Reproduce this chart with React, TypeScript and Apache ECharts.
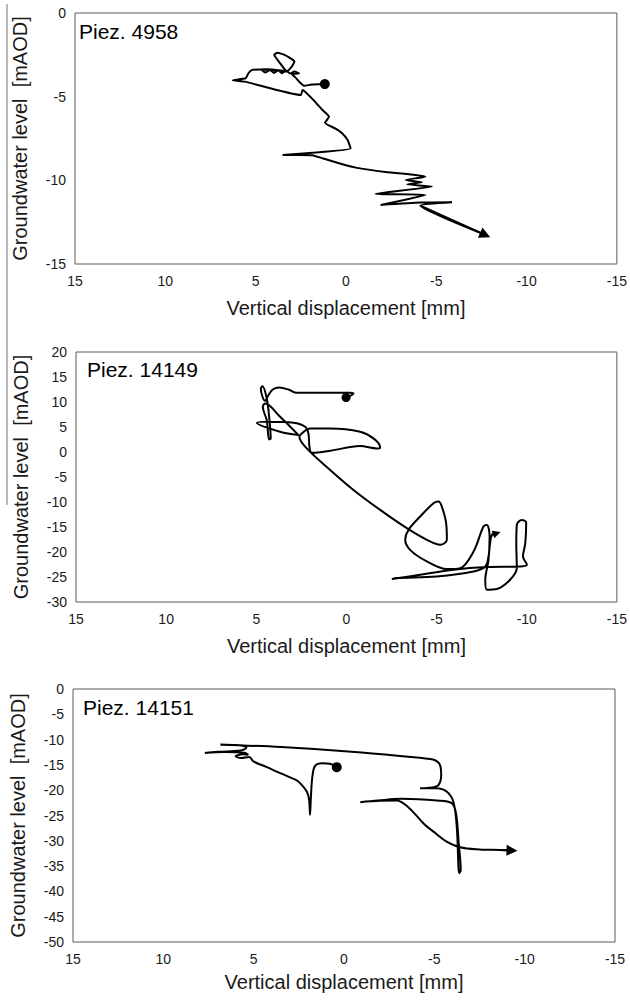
import React, { useEffect, useRef } from "react";
import * as echarts from "echarts";

const FONT = "'Liberation Sans', Arial, Helvetica, sans-serif";

// Piezometer names, one per panel
const piezNames = ["Piez. 4958", "Piez. 14149", "Piez. 14151"];

// Axis ranges (mm for displacement, mAOD for groundwater level)
const displacementRange = [-15, 15];
const displacementStep = 5;
const levelRanges: [number, number][] = [
  [-15, 0],
  [-30, 20],
  [-50, 0],
];
const levelStep = 5;

// Trajectories: [vertical displacement (mm), groundwater level (mAOD)], in time order
const piez4958: [number, number][] = [
  [1.17, -4.25], [1.9, -4.28], [2.3, -4.35], [2.55, -4.15], [2.8, -3.85], [3.0, -3.65],
  [2.6, -3.62], [2.85, -3.5], [3.1, -3.62], [3.3, -3.45], [3.55, -3.6], [3.75, -3.42],
  [4.0, -3.58], [4.2, -3.4], [4.45, -3.55], [4.7, -3.38], [4.35, -3.36], [3.6, -3.44],
  [3.3, -3.5], [3.65, -3.0], [3.97, -2.5], [3.8, -2.38], [3.4, -2.5], [2.85, -2.9],
  [3.0, -3.2], [3.3, -3.5], [4.0, -3.42], [4.8, -3.38], [5.2, -3.4], [5.4, -3.6],
  [5.55, -3.9], [6.27, -4.02], [5.6, -4.1], [2.5, -4.9], [2.4, -4.6], [1.8, -5.2],
  [1.3, -5.8], [0.94, -6.2], [1.16, -6.56], [0.6, -6.9], [0.2, -7.2], [-0.1, -7.6],
  [-0.26, -8.1], [3.51, -8.49], [2.6, -8.48], [1.86, -8.5], [1.3, -8.68], [0.38, -8.98],
  [-0.54, -9.24], [-2.2, -9.5], [-3.85, -9.68], [-4.4, -9.78], [-3.3, -9.98], [-4.21, -10.12],
  [-3.38, -10.24], [-4.76, -10.37], [-1.64, -10.81], [-4.4, -10.87], [-1.92, -11.47],
  [-4.12, -11.33], [-5.87, -11.31], [-4.12, -11.51], [-7.71, -13.26],
];

const piez14149: [number, number][] = [
  [0.02, 10.9], [-0.39, 11.69], [-0.21, 11.83], [1.46, 11.83], [2.75, 11.83], [3.22, 12.49],
  [3.72, 12.89], [4.09, 12.49], [4.33, 11.36], [4.51, 10.23], [4.75, 12.69], [4.66, 13.16],
  [4.42, 10.7], [4.27, 6.37], [4.2, 2.72], [4.29, 2.52], [4.42, 6.37], [4.64, 9.03],
  [4.51, 9.7], [3.68, 7.04], [2.66, 3.38], [3.68, 4.05], [4.97, 5.84], [4.24, 6.04],
  [2.94, 5.84], [2.29, 5.04], [2.11, 3.71], [2.05, 1.05], [1.92, -0.15], [0.9, 0.25],
  [-0.76, 1.19], [-1.69, 0.72], [-1.87, 0.92], [-1.5, 2.72], [-0.76, 4.05], [0.9, 4.71],
  [2.01, 4.71], [2.48, 3.71], [2.61, 3.05], [2.2, 0.72], [0.9, -3.6], [-0.39, -7.59],
  [-1.87, -11.58], [-3.35, -15.24], [-4.46, -17.57], [-5.2, -18.57], [-5.57, -17.57],
  [-5.53, -14.24], [-5.29, -10.92], [-5.11, -9.92], [-4.83, -10.25], [-4.09, -12.91],
  [-3.44, -15.57], [-3.26, -17.57], [-3.53, -19.57], [-4.46, -21.89], [-5.57, -23.42],
  [-6.31, -23.22], [-7.05, -19.9], [-7.6, -14.91], [-7.79, -14.58], [-7.94, -16.9],
  [-7.88, -21.56], [-7.7, -25.55], [-7.79, -27.55], [-8.34, -27.41], [-9.08, -25.55],
  [-9.45, -23.22], [-9.42, -18.24], [-9.45, -14.58], [-9.73, -13.58], [-9.97, -14.11],
  [-9.92, -18.24], [-9.79, -20.9], [-10.01, -22.56], [-9.64, -22.89], [-7.79, -23.02],
  [-5.94, -23.55], [-4.09, -24.55], [-2.52, -25.42], [-2.79, -25.22], [-5.01, -24.89],
  [-7.05, -23.89], [-7.7, -22.89], [-7.88, -20.9], [-7.97, -18.24], [-8.07, -16.57],
  [-8.34, -16.24],
];

const piez14151: [number, number][] = [
  [0.4, -15.44], [0.77, -14.78], [1.23, -14.65], [1.6, -15.18], [1.75, -17.29], [1.84, -21.9],
  [1.88, -24.87], [1.93, -21.9], [2.06, -20.26], [2.34, -18.94], [2.61, -18.08], [3.53, -16.63],
  [4.3, -15.4], [5.01, -14.32], [5.24, -13.46], [5.7, -13.65], [6.0, -13.3], [5.6, -12.9],
  [5.3, -13.0], [5.5, -12.6], [6.6, -12.45], [7.7, -12.65], [7.0, -12.4], [5.7, -12.15],
  [5.4, -11.55], [5.8, -11.1], [6.84, -11.02], [3.47, -11.48], [-0.98, -12.54], [-4.31, -13.66],
  [-4.98, -13.99], [-5.31, -14.98], [-5.38, -16.96], [-5.24, -18.94], [-4.87, -19.46],
  [-4.21, -19.6], [-5.13, -19.6], [-5.68, -20.26], [-6.05, -22.23], [-6.24, -27.18],
  [-6.38, -36.41], [-6.46, -35.75], [-6.35, -30.48], [-6.2, -24.54], [-5.96, -22.56],
  [-5.13, -22.04], [-3.2, -21.71], [-1.87, -22.04], [-0.9, -22.36], [-2.0, -22.1],
  [-2.92, -22.04], [-3.6, -23.5], [-4.39, -26.52], [-5.1, -28.6], [-5.68, -30.15],
  [-6.42, -31.27], [-7.5, -31.7], [-8.63, -31.8], [-9.3, -31.9],
];

const traces = [piez4958, piez14149, piez14151];

// Panel placement in the 630 x 1000 canvas
const grids = [
  { left: 75, top: 13, width: 544, height: 251 },
  { left: 76, top: 352, width: 541, height: 250 },
  { left: 73, top: 689, width: 542, height: 253 },
];
const titlePos = [
  [79, 31],
  [87, 369],
  [83, 707],
];
const smoothness = [0.15, 0.35, 0.35];
const dotSize = [10, 9, 10];
const arrowSize = [11, 8, 11];

export default function App() {
  const ref = useRef<HTMLDivElement>(null);

  useEffect(() => {
    if (!ref.current) return;
    const chart = echarts.init(ref.current, undefined, { renderer: "svg" });

    const xAxis = grids.map((_, i) => ({
      type: "value" as const,
      gridIndex: i,
      min: displacementRange[0],
      max: displacementRange[1],
      interval: displacementStep,
      inverse: true,
      name: "Vertical displacement [mm]",
      nameLocation: "middle" as const,
      nameGap: i === 2 ? 30 : 34,
      nameTextStyle: { fontFamily: FONT, fontSize: 20, color: "#1a1a1a" },
      axisLine: { show: false },
      axisTick: { show: false },
      splitLine: { show: false },
      axisLabel: { fontFamily: FONT, fontSize: 14, color: "#1a1a1a", margin: 10 },
    }));

    const yAxis = grids.map((_, i) => ({
      type: "value" as const,
      gridIndex: i,
      min: levelRanges[i][0],
      max: levelRanges[i][1],
      interval: levelStep,
      name: "Groundwater level  [mAOD]",
      nameLocation: "middle" as const,
      nameGap: 45,
      nameTextStyle: { fontFamily: FONT, fontSize: 20, color: "#1a1a1a" },
      axisLine: { show: false },
      axisTick: { show: false },
      splitLine: { show: false },
      axisLabel: { fontFamily: FONT, fontSize: 14, color: "#1a1a1a", margin: 9 },
    }));

    const series: any[] = [];
    traces.forEach((data, i) => {
      const n = data.length;
      series.push({
        type: "line",
        xAxisIndex: i,
        yAxisIndex: i,
        data,
        smooth: smoothness[i],
        showSymbol: false,
        symbol: "none",
        lineStyle: { color: "#000", width: 2 },
        silent: true,
        markLine: {
          silent: true,
          symbol: ["none", "triangle"],
          symbolSize: arrowSize[i],
          label: { show: false },
          lineStyle: { color: "#000", width: 2, type: "solid", opacity: 1 },
          itemStyle: { color: "#000", opacity: 1 },
          data: [[{ coord: data[n - 2] }, { coord: data[n - 1] }]],
        },
      });
      series.push({
        type: "scatter",
        xAxisIndex: i,
        yAxisIndex: i,
        data: [data[0]],
        symbol: "circle",
        symbolSize: dotSize[i],
        itemStyle: { color: "#000", opacity: 1 },
        silent: true,
      });
    });

    chart.setOption({
      animation: false,
      backgroundColor: "#fff",
      grid: grids.map((g) => ({
        ...g,
        show: true,
        borderColor: "#5a5a5a",
        borderWidth: 1,
        backgroundColor: "transparent",
        containLabel: false,
      })),
      xAxis,
      yAxis,
      series,
      graphic: [
        ...piezNames.map((name, i) => ({
          type: "text",
          x: titlePos[i][0],
          y: titlePos[i][1],
          silent: true,
          style: {
            text: name,
            fontFamily: FONT,
            fontSize: 21,
            fill: "#000",
            align: "left",
            verticalAlign: "middle",
          },
        })),
        {
          type: "line",
          silent: true,
          shape: { x1: 7, y1: 4, x2: 7, y2: 505 },
          style: { stroke: "#8a8a8a", lineWidth: 1.2 },
        },
      ],
    });

    return () => chart.dispose();
  }, []);

  return (
    <div
      ref={ref}
      style={{ position: "absolute", left: 0, top: 0, width: 630, height: 1000 }}
    />
  );
}
